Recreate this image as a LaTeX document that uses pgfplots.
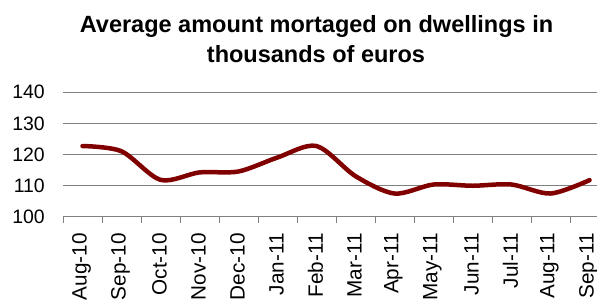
\documentclass[border=0pt]{standalone}
\usepackage{pgfplots}
\pgfplotsset{compat=1.18}
\usepackage{fontspec}
\setmainfont{Liberation Sans}
\definecolor{maroonline}{RGB}{128,0,0}
\definecolor{gridgray}{RGB}{128,128,128}
\begin{document}
\begin{tikzpicture}
\useasboundingbox (0bp,0bp) rectangle (597bp,300bp);
\clip (0bp,0bp) rectangle (597bp,300bp);
\begin{axis}[
  at={(63bp,83.5bp)}, anchor=south west,
  width=546bp, height=124.2bp, scale only axis,
  xmin=-0.5, xmax=13.5, ymin=100, ymax=140,
  axis line style={draw=none},
  xtick={0,...,13},
  xticklabels={Aug-10,Sep-10,Oct-10,Nov-10,Dec-10,Jan-11,Feb-11,Mar-11,Apr-11,May-11,Jun-11,Jul-11,Aug-11,Sep-11},
  minor xtick={-0.5,0.5,1.5,2.5,3.5,4.5,5.5,6.5,7.5,8.5,9.5,10.5,11.5,12.5,13.5},
  ytick={100,110,120,130,140},
  ymajorgrids, major grid style={gridgray, line width=1bp},
  major tick length=0pt, minor tick length=6bp,
  tick align=outside, xtick pos=bottom, ytick pos=left,
  minor tick style={gridgray, line width=1bp},
  /pgf/number format/assume math mode=true,
  yticklabel style={font=\fontsize{19.5}{22}\selectfont, anchor=east, inner sep=0pt, xshift=-18bp},
  xticklabel style={font=\fontsize{20.8}{22}\selectfont, rotate=90, anchor=east, inner sep=0pt, xshift=-16.5bp, yshift=1bp},
]
\addplot[maroonline, line width=4.5bp, smooth, line cap=round, line join=round] coordinates {
(0,122.7) (1,121.0) (2,111.8) (3,114.2) (4,114.5) (5,119.0) (6,122.7)
(7,113.0) (8,107.4) (9,110.3) (10,109.9) (11,110.3) (12,107.4) (13,111.7)
};
\end{axis}
\node[anchor=base, font=\bfseries\fontsize{23.6}{28}\selectfont] at (316.5bp,267bp) {Average amount mortaged on dwellings in};
\node[anchor=base, font=\bfseries\fontsize{23.6}{28}\selectfont] at (316bp,237bp) {thousands of euros};
\end{tikzpicture}
\end{document}
